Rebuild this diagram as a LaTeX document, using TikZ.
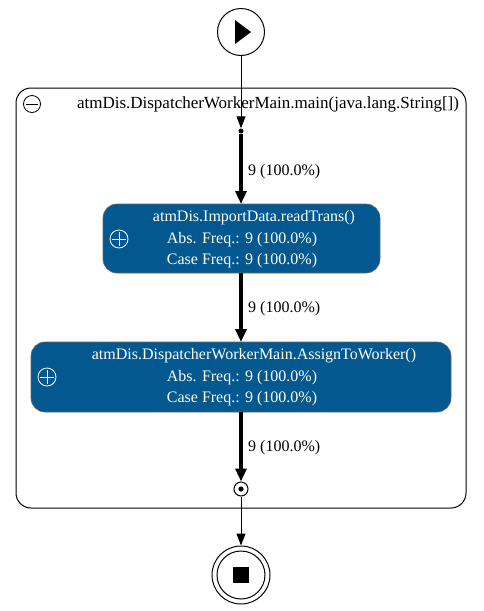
\documentclass[tikz,border=0pt]{standalone}
\usepackage{fontspec}
\setmainfont{Liberation Serif}
\usetikzlibrary{arrows.meta}
\definecolor{actblue}{HTML}{03598F}
\begin{document}
\begin{tikzpicture}[x=1pt,y=-1pt,
  txt/.style={font=\fontsize{16}{18}\selectfont, inner sep=0pt, anchor=base},
  wtxt/.style={txt, text=white},
  act/.style={draw=black!60, line width=0.6pt, fill=actblue, rounded corners=14pt},
  thin/.style={line width=1pt, -{Triangle[length=12pt,width=9pt]}},
  thick/.style={line width=3.2pt, -{Triangle[length=13pt,width=11pt]}},
  ]
\useasboundingbox (0,0) rectangle (483,611);
% cluster
\draw[line width=1pt, rounded corners=15pt] (16,88) rectangle (466,508);
\node[draw, circle, minimum size=17pt, inner sep=0pt, line width=0.8pt] (minus) at (32,104) {};
\draw[line width=0.8pt] (26,104) -- (38,104);
\node[txt, font=\fontsize{17}{19}\selectfont] (title) at (268,108) {atmDis.DispatcherWorkerMain.main(java.lang.String[])};
% start
\node[draw, circle, minimum size=47pt, inner sep=0pt, line width=1pt] (start) at (241,32) {};
\fill (235,20) -- (251,32) -- (235,44) -- cycle;
% entry dot
\node[circle, fill, minimum size=5pt, inner sep=0pt] (entry) at (241,131) {};
% activities
\draw[act] (103,204) rectangle (380,273);
\coordinate (a1t) at (241,204);
\coordinate (a1b) at (241,273);
\node[draw=white, circle, minimum size=18pt, inner sep=0pt, line width=0.8pt] (p1) at (119,239) {};
\draw[white, line width=0.8pt] (112,239) -- (126,239) (119,232) -- (119,246);
\node[wtxt] (a1l1) at (254,221) {atmDis.ImportData.readTrans()};
\node[wtxt] (a1l2) at (242,243) {Abs. Freq.: 9 (100.0\%)};
\node[wtxt] (a1l3) at (242,264) {Case Freq.: 9 (100.0\%)};

\draw[act] (31,342) rectangle (451,412);
\coordinate (a2t) at (241,342);
\coordinate (a2b) at (241,412);
\node[draw=white, circle, minimum size=18pt, inner sep=0pt, line width=0.8pt] (p2) at (47,377) {};
\draw[white, line width=0.8pt] (40,377) -- (54,377) (47,370) -- (47,384);
\node[wtxt] (a2l1) at (254,359) {atmDis.DispatcherWorkerMain.AssignToWorker()};
\node[wtxt] (a2l2) at (242,381) {Abs. Freq.: 9 (100.0\%)};
\node[wtxt] (a2l3) at (242,402) {Case Freq.: 9 (100.0\%)};
% exit dot
\node[draw, circle, minimum size=14pt, inner sep=0pt, line width=1pt] (exit) at (241,489) {};
\fill (241,489) circle (2.6pt);
% end
\node[draw, circle, minimum size=58pt, inner sep=0pt, line width=1pt] (end) at (241,575) {};
\draw[line width=1pt] (241,575) circle (24pt);
\fill (233,567) rectangle (249,583);
% edges
\draw[thin] (start) -- (entry);
\draw[thick] (entry) -- (a1t);
\draw[thick] (a1b) -- (a2t);
\draw[thick] (a2b) -- (exit);
\draw[thin] (exit) -- (end);
% labels
\node[txt, anchor=base west] (e1) at (248,175) {9 (100.0\%)};
\node[txt, anchor=base west] (e2) at (248,312) {9 (100.0\%)};
\node[txt, anchor=base west] (e3) at (248,451) {9 (100.0\%)};
\end{tikzpicture}
\end{document}
